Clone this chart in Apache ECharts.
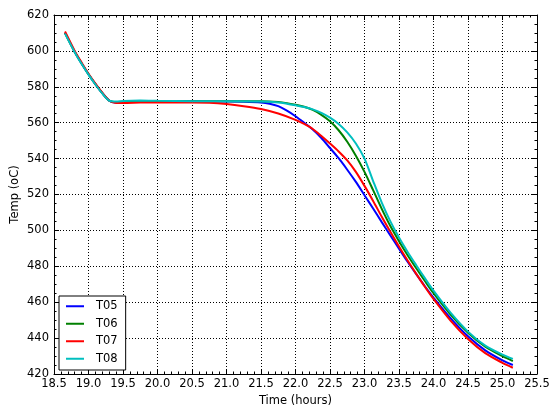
<!DOCTYPE html>
<html>
<head>
<meta charset="utf-8">
<script src="https://cdn.jsdelivr.net/npm/echarts@6/dist/echarts.min.js"></script>
<style>
  html, body { margin: 0; padding: 0; background: #fff; }
  #chart { width: 551px; height: 410px; }
</style>
</head>
<body>
<div id="chart"></div>
<script>
// Furnace thermocouple temperatures over time, [hours, degC] pairs
const seriesNames = ['T05', 'T06', 'T07', 'T08'];
const seriesColors = ['#0000ff', '#008000', '#ff0000', '#00bfbf'];

const t05 = [
  [18.66, 610.2], [18.8, 599.5], [18.9, 593.0], [19.0, 587.0], [19.1, 581.5],
  [19.2, 576.5], [19.3, 572.3], [19.38, 571.3], [19.5, 571.5], [19.75, 571.8],
  [20.0, 571.9], [20.5, 571.9], [21.0, 571.8], [21.25, 571.7], [21.5, 571.3],
  [21.625, 570.6], [21.75, 569.2], [21.875, 566.7], [22.0, 563.6], [22.125, 560.0],
  [22.25, 556.2], [22.375, 551.5], [22.5, 545.9], [22.625, 540.2], [22.75, 533.8],
  [22.875, 527.0], [23.0, 519.6], [23.125, 512.2], [23.25, 504.6], [23.375, 497.2],
  [23.5, 489.8], [23.625, 482.5], [23.75, 475.6], [23.875, 468.9], [24.0, 462.6],
  [24.25, 451.0], [24.5, 441.0], [24.75, 433.2], [25.0, 427.6], [25.15, 425.0]
];

const t06 = [
  [18.66, 610.0], [18.8, 599.5], [18.9, 593.0], [19.0, 587.0], [19.1, 581.5],
  [19.2, 576.5], [19.3, 572.3], [19.4, 571.4], [19.5, 571.6], [19.75, 571.9],
  [20.0, 572.0], [20.5, 572.0], [21.0, 571.9], [21.5, 571.9], [21.75, 571.5],
  [21.875, 570.9], [22.0, 570.0], [22.125, 568.9], [22.25, 567.1], [22.375, 564.4],
  [22.5, 560.8], [22.625, 555.8], [22.75, 549.4], [22.875, 541.6], [23.0, 532.6],
  [23.125, 522.4], [23.25, 512.0], [23.375, 502.4], [23.5, 494.0], [23.625, 486.2],
  [23.75, 478.9], [23.875, 471.8], [24.0, 465.0], [24.25, 453.0], [24.5, 443.0],
  [24.75, 435.2], [25.0, 429.9], [25.15, 427.2]
];

const t07 = [
  [18.66, 610.8], [18.8, 600.0], [18.9, 593.5], [19.0, 587.3], [19.1, 581.8],
  [19.2, 576.7], [19.3, 572.4], [19.4, 571.0], [19.5, 571.0], [19.75, 571.2],
  [20.0, 571.3], [20.5, 571.3], [20.75, 571.1], [21.0, 570.4], [21.25, 569.2],
  [21.5, 567.6], [21.75, 565.1], [22.0, 561.6], [22.125, 559.3], [22.25, 556.5],
  [22.375, 552.6], [22.5, 548.4], [22.625, 544.0], [22.75, 539.0], [22.875, 532.6],
  [23.0, 524.8], [23.125, 516.4], [23.25, 507.6], [23.375, 499.2], [23.5, 491.0],
  [23.625, 483.2], [23.75, 475.8], [23.875, 468.6], [24.0, 461.8], [24.25, 449.6],
  [24.5, 439.5], [24.75, 431.6], [25.0, 426.2], [25.15, 423.5]
];

const t08 = [
  [18.66, 609.6], [18.8, 599.3], [18.9, 592.8], [19.0, 586.8], [19.1, 581.3],
  [19.2, 576.3], [19.3, 572.3], [19.4, 571.8], [19.5, 572.1], [19.75, 572.3],
  [20.0, 572.2], [20.5, 572.0], [21.0, 571.9], [21.5, 571.8], [21.75, 571.3],
  [21.875, 570.6], [22.0, 569.7], [22.125, 568.7], [22.25, 567.4], [22.375, 565.5],
  [22.5, 562.8], [22.625, 559.3], [22.75, 554.6], [22.875, 548.4], [23.0, 540.0],
  [23.125, 527.5], [23.25, 515.5], [23.375, 505.0], [23.5, 496.0], [23.625, 488.0],
  [23.75, 480.6], [23.875, 473.4], [24.0, 466.4], [24.25, 454.0], [24.5, 443.6],
  [24.75, 435.8], [25.0, 430.8], [25.15, 428.4]
];

const seriesData = [t05, t06, t07, t08];

const xMin = 18.5, xMax = 25.5, xStep = 0.5;
const yMin = 420, yMax = 620, yStep = 20;

const FONT = 'DejaVu Sans';

const tickCommon = {
  axisLine: { show: true, lineStyle: { color: '#000', width: 1 } },
  axisTick: { show: true, inside: true, length: 5, lineStyle: { color: '#000', width: 1 } }
};

const chart = echarts.init(document.getElementById('chart'), null, { renderer: 'canvas' });

chart.setOption({
  animation: false,
  backgroundColor: '#fff',
  grid: { left: 54, top: 15, right: 14, bottom: 36, containLabel: false, outerBoundsMode: 'none' },
  xAxis: [
    {
      type: 'value', min: xMin, max: xMax, interval: xStep,
      name: 'Time (hours)', nameLocation: 'middle', nameGap: 20,
      nameTextStyle: { fontFamily: FONT, fontSize: 11.5, color: '#000' },
      axisLabel: {
        fontFamily: FONT, fontSize: 11.5, color: '#000', margin: 4,
        formatter: v => v.toFixed(1)
      },
      ...tickCommon,
      minorTick: { show: true, splitNumber: 5, length: 2.5, lineStyle: { color: '#000' } },
      splitLine: { show: true, lineStyle: { color: '#000', type: [1, 2], width: 1 } }
    },
    {
      type: 'value', position: 'top', min: xMin, max: xMax, interval: xStep,
      axisLabel: { show: false },
      ...tickCommon,
      minorTick: { show: true, splitNumber: 5, length: 2.5, lineStyle: { color: '#000' } },
      splitLine: { show: false }
    }
  ],
  yAxis: [
    {
      type: 'value', min: yMin, max: yMax, interval: yStep,
      name: 'Temp (oC)', nameLocation: 'middle', nameGap: 33, nameRotate: 90,
      nameMoveOverlap: false,
      nameTextStyle: { fontFamily: FONT, fontSize: 11.5, color: '#000' },
      axisLabel: { fontFamily: FONT, fontSize: 11.5, color: '#000', margin: 5 },
      ...tickCommon,
      minorTick: { show: true, splitNumber: 4, length: 2.5, lineStyle: { color: '#000' } },
      splitLine: { show: true, lineStyle: { color: '#000', type: [1, 2], width: 1 } }
    },
    {
      type: 'value', position: 'right', min: yMin, max: yMax, interval: yStep,
      axisLabel: { show: false },
      ...tickCommon,
      minorTick: { show: true, splitNumber: 4, length: 2.5, lineStyle: { color: '#000' } },
      splitLine: { show: false }
    }
  ],
  legend: {
    orient: 'vertical', left: 59, top: 296,
    backgroundColor: '#fff', borderColor: '#000', borderWidth: 1,
    padding: [4, 8, 5, 7], itemGap: 5,
    itemWidth: 18, itemHeight: 2, icon: 'rect',
    textStyle: { fontFamily: FONT, fontSize: 11.5, color: '#000', padding: [0, 0, 0, 7], lineHeight: 12.5 },
    data: seriesNames
  },
  series: seriesNames.map((name, i) => ({
    name, type: 'line', data: seriesData[i],
    xAxisIndex: 0, yAxisIndex: 0,
    smooth: 0.3, symbol: 'none',
    lineStyle: { color: seriesColors[i], width: 2 },
    itemStyle: { color: seriesColors[i] },
    z: 3 + i
  }))
});
</script>
</body>
</html>
